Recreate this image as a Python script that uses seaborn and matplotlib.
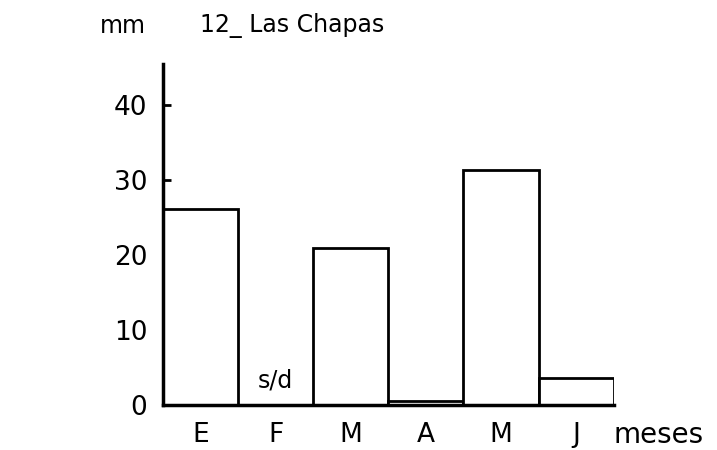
import numpy as np
import pandas as pd
import seaborn as sns
import matplotlib.pyplot as plt

# precipitación mensual (mm) - 12 Las Chapas
meses = ["Ene", "Feb", "Mar", "Abr", "May", "Jun"]
etiquetas = ["E", "F", "M", "A", "M", "J"]
lluvia = [26.2, np.nan, 21.0, 0.6, 31.4, 3.6]   # F: sin datos

df = pd.DataFrame({"mes": meses, "mm": lluvia})

sns.set_theme(style="white")
plt.rcParams['font.family'] = ['DejaVu Sans']
plt.rcParams['text.color'] = 'black'
plt.rcParams['xtick.color'] = 'black'
plt.rcParams['ytick.color'] = 'black'

fig = plt.figure(figsize=(7.17, 4.5), dpi=100)
ax = fig.add_axes([0.227, 0.10, 0.629, 0.758])

sns.barplot(data=df, x="mes", y="mm", order=meses, width=1.0,
            color="white", edgecolor="black", linewidth=2, ax=ax)

ax.set_xlim(-0.5, 5.5)
ax.set_ylim(0, 45.5)
ax.set_yticks([0, 10, 20, 30, 40])
ax.set_yticklabels(["0", "10", "20", "30", "40"], fontsize=19)
ax.set_xticks(range(len(etiquetas)))
ax.set_xticklabels(etiquetas, fontsize=19)
ax.tick_params(axis="y", direction="in", length=6, width=2, pad=11, left=True)
ax.tick_params(axis="x", length=0, pad=12)
ax.set_xlabel("")
ax.set_ylabel("")

for s in ["top", "right"]:
    ax.spines[s].set_visible(False)
for s in ["left", "bottom"]:
    ax.spines[s].set_linewidth(2.5)
    ax.spines[s].set_color("black")

# s/d en febrero
ax.text(1, 1.7, "s/d", fontsize=17, ha="center", va="bottom")

fig.text(100 / 717, 1 - 26 / 450, "mm", fontsize=17, va="center", ha="left")
fig.text(200 / 717, 1 - 26 / 450, "12_ Las Chapas", fontsize=17, va="center", ha="left")
fig.text(614 / 717, 1 - 435 / 450, "meses", fontsize=20, va="center", ha="left")

fig.savefig("out.png", dpi=100)
